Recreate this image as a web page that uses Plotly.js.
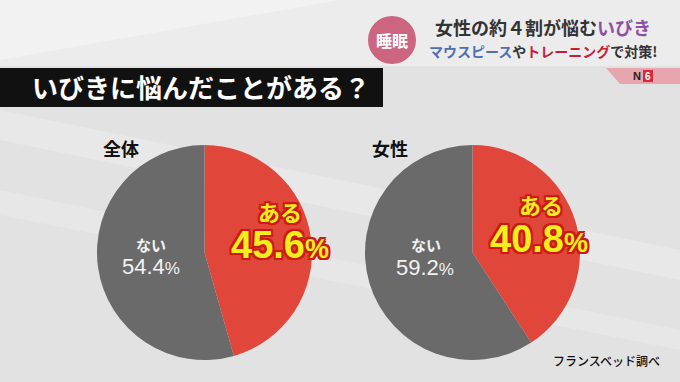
<!DOCTYPE html>
<html>
<head>
<meta charset="utf-8">
<script src="https://cdn.plot.ly/plotly-3.0.1.min.js"></script>
<style>
html,body{margin:0;padding:0;background:#e3e3e3;}
#chart{width:680px;height:382px;}
</style>
</head>
<body>
<div id="chart"></div>
<script>
// ---- data ----
const sliceLabels = ['ある', 'ない'];
const groupNames = ['全体', '女性'];
const zentaiValues = [45.6, 54.4];
const joseiValues = [40.8, 59.2];
const questionTitle = 'いびきに悩んだことがある？';
const sourceNote = 'フランスベッド調べ';

const W = 680, H = 382;
const px = x => x / W;
const py = y => 1 - y / H;
const JP = '"Noto Sans CJK JP", "Noto Sans", sans-serif';
const RED = '#e0473a', GRAY = '#6a6a6a';

function pieTrace(values, x0, x1) {
  return {
    type: 'pie', labels: sliceLabels, values: values,
    sort: false, direction: 'clockwise', rotation: 0,
    marker: {colors: [RED, GRAY], line: {width: 0}},
    textinfo: 'none', hoverinfo: 'label+percent', showlegend: false,
    domain: {x: [px(x0), px(x1)], y: [py(360), py(145)]}
  };
}

const data = [
  pieTrace(zentaiValues, 97, 312),
  pieTrace(joseiValues, 365, 580)
];

const outline = c => ['-2px -2px 0 ' + c, '2px -2px 0 ' + c, '-2px 2px 0 ' + c, '2px 2px 0 ' + c,
  '0 -2px 0 ' + c, '0 2px 0 ' + c, '-2px 0 0 ' + c, '2px 0 0 ' + c].join(', ');

function ann(text, x, y, size, color, extra) {
  return Object.assign({
    text: text, x: px(x), y: py(y), xref: 'paper', yref: 'paper',
    xanchor: 'center', yanchor: 'middle', showarrow: false,
    font: {family: JP, size: size, color: color, weight: 700}
  }, extra || {});
}

const pct = v => v.toFixed(1);
const annotations = [];
const groups = [
  {name: groupNames[0], vals: zentaiValues, title: [121, 148], yes: [280, 211, 280, 245], no: [151, 244, 151, 266]},
  {name: groupNames[1], vals: joseiValues, title: [390, 148], yes: [541, 204, 539, 239], no: [426, 244, 425, 267]}
];
groups.forEach(g => {
  annotations.push(ann(g.name, g.title[0], g.title[1], 18, '#111'));
  annotations.push(ann(sliceLabels[0], g.yes[0], g.yes[1], 22, '#f4ee1c',
    {font: {family: JP, size: 22, color: '#f4ee1c', weight: 700, shadow: outline('#cc1a12')}}));
  annotations.push(ann(pct(g.vals[0]) + '<span style="font-size:27px">%</span>', g.yes[2], g.yes[3], 38, '#f4ee1c',
    {font: {family: '"Liberation Sans", Arial, sans-serif', size: 38, color: '#f4ee1c', weight: 700, shadow: outline('#cc1a12')}}));
  annotations.push(ann(sliceLabels[1], g.no[0], g.no[1], 15, '#f2f2f2'));
  annotations.push(ann(pct(g.vals[1]) + '<span style="font-size:17px">%</span>', g.no[2], g.no[3], 22, '#f2f2f2',
    {font: {family: '"Liberation Sans", Arial, sans-serif', size: 22, color: '#f2f2f2', weight: 400}}));
});
// banner
annotations.push(ann(questionTitle, 201, 87, 26, '#ffffff', {font: {family: JP, size: 26, color: '#fff', weight: 700}}));
// header
annotations.push(ann('女性の約４割が悩む<span style="color:#8c4fa2">いびき</span>', 543, 27, 18, '#333'));
annotations.push(ann('<span style="color:#4d70b4">マウスピース</span>や<span style="color:#c41e3a">トレーニング</span>で対策!', 543, 51, 14, '#333'));
annotations.push(ann('睡眠', 392, 40, 16, '#ffffff'));
annotations.push(ann('N', 637, 76, 11, '#222', {font: {family: '"Liberation Sans", Arial', size: 11, color: '#222', weight: 700}}));
annotations.push(ann('6', 648, 76, 10, '#fff', {font: {family: '"Liberation Sans", Arial', size: 10, color: '#fff', weight: 700}}));
// source
annotations.push(ann(sourceNote, 606, 360, 12, '#111', {font: {family: JP, size: 12, color: '#111', weight: 500}}));

function pathPx(points) {
  return 'M' + points.map(p => px(p[0]) + ',' + py(p[1])).join(' L') + ' Z';
}
const shapes = [
  {type: 'rect', xref: 'paper', yref: 'paper', x0: 0, x1: 1, y0: py(66), y1: 1, fillcolor: '#ececec', line: {width: 0}, layer: 'below'},
  {type: 'path', xref: 'paper', yref: 'paper', path: pathPx([[0, 110], [680, 250], [680, 280], [0, 140]]), fillcolor: 'rgba(255,255,255,0.22)', line: {width: 0}, layer: 'below'},
  {type: 'path', xref: 'paper', yref: 'paper', path: pathPx([[0, 190], [680, 330], [680, 350], [0, 215]]), fillcolor: 'rgba(255,255,255,0.18)', line: {width: 0}, layer: 'below'},
  {type: 'path', xref: 'paper', yref: 'paper', path: pathPx([[0, 0], [340, 0], [0, 60]]), fillcolor: 'rgba(255,255,255,0.3)', line: {width: 0}, layer: 'below'},
  {type: 'rect', xref: 'paper', yref: 'paper', x0: 0, x1: px(383), y0: py(107), y1: py(68), fillcolor: '#111111', line: {width: 0}, layer: 'below'},
  {type: 'circle', xref: 'paper', yref: 'paper', x0: px(368), x1: px(416), y0: py(64), y1: py(16), fillcolor: '#cc6580', line: {width: 0}},
  {type: 'path', xref: 'paper', yref: 'paper', path: pathPx([[606, 68], [680, 68], [680, 84], [620, 84]]), fillcolor: '#e7a5ad', line: {width: 0}},
  {type: 'rect', xref: 'paper', yref: 'paper', x0: px(643), x1: px(653), y0: py(82), y1: py(70), fillcolor: '#d8283a', line: {width: 0}}
];

const layout = {
  width: W, height: H,
  margin: {l: 0, r: 0, t: 0, b: 0},
  paper_bgcolor: '#e2e2e2', plot_bgcolor: '#e2e2e2',
  showlegend: false,
  annotations: annotations, shapes: shapes
};
Plotly.newPlot('chart', data, layout, {displayModeBar: false, staticPlot: true});
</script>
</body>
</html>
